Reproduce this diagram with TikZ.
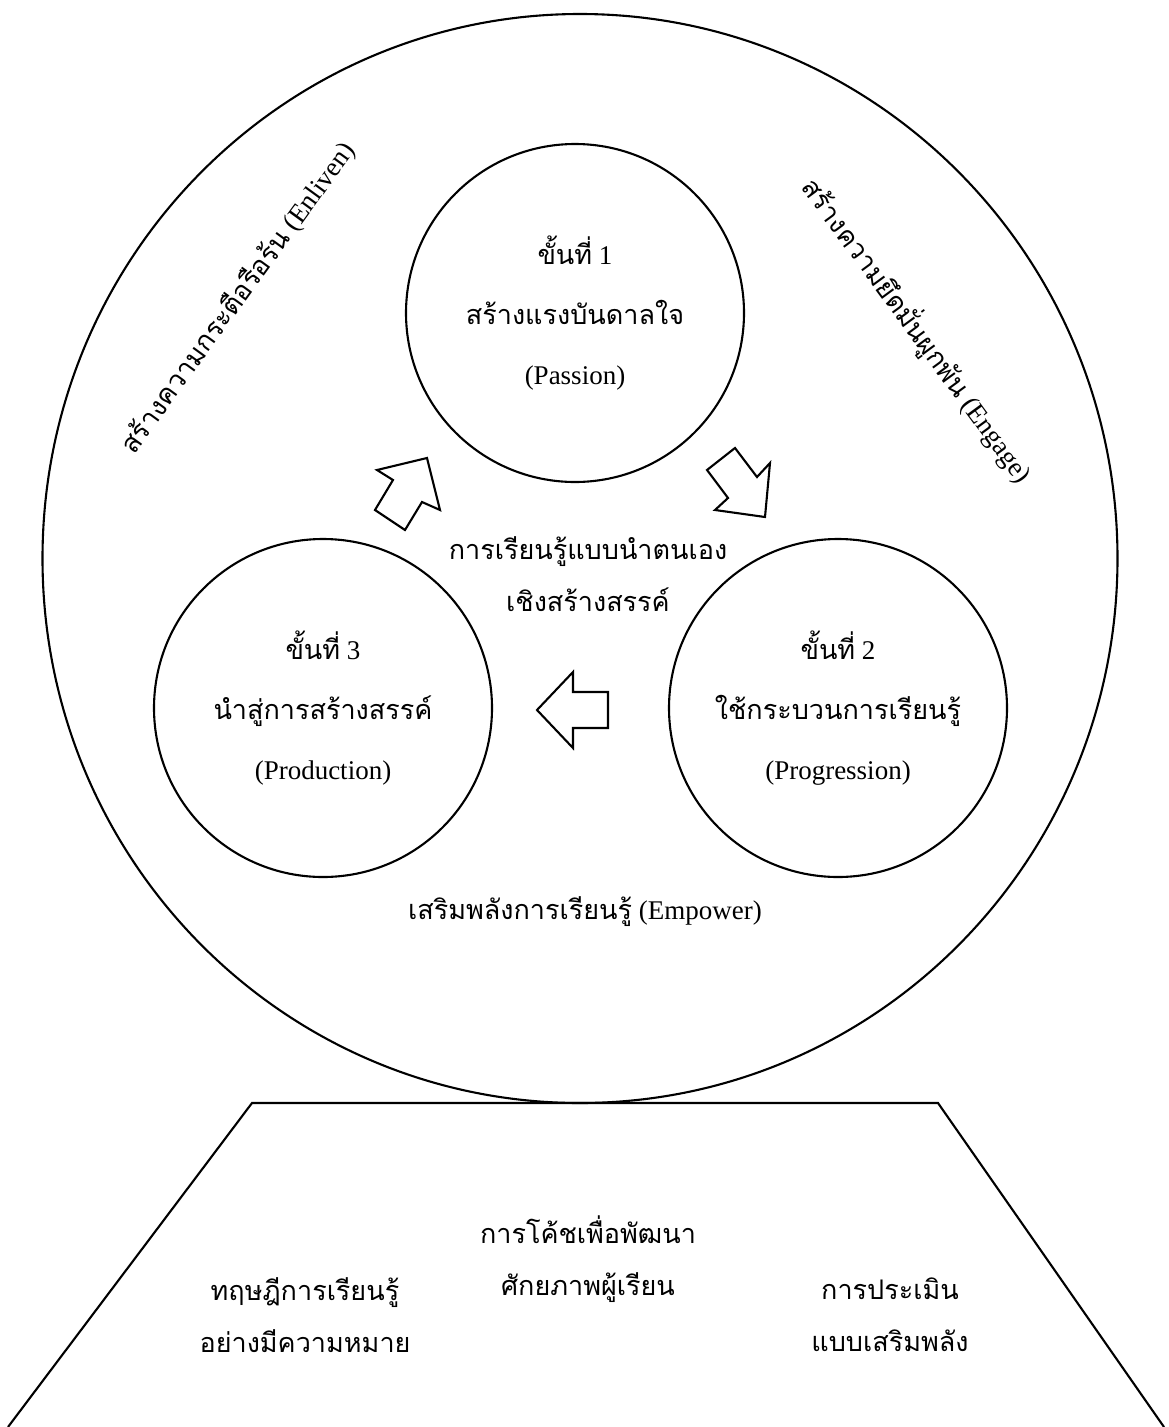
\documentclass[tikz,border=0pt]{standalone}
\usepackage{fontspec}
\setmainfont{Liberation Serif}
\newfontfamily\thaifont[Script=Thai]{Loma}
\usetikzlibrary{shapes.geometric}
\tikzset{
  ln/.style={line width=2.1pt, black},
  stage/.style={ln, draw, circle, minimum size=338pt, inner sep=0pt, align=center,
    font=\fontsize{27}{60}\selectfont},
  txt/.style={align=center, inner sep=0pt, font=\fontsize{27}{52}\selectfont},
  blockarrow/.style={ln, draw, fill=white, line join=miter},
}
\begin{document}
\begin{tikzpicture}[x=1pt,y=-1pt]
\useasboundingbox (0,0) rectangle (1169,1427);
% outer circle
\node[ln, draw, ellipse, minimum width=1075pt, minimum height=1089pt, inner sep=0pt] (outer) at (580,558.5) {};
% stages
\node[stage] (s1) at (575,313) {{\thaifont ขั้นที่} 1\\{\thaifont สร้างแรงบันดาลใจ}\\(Passion)};
\node[stage] (s2) at (838,708) {{\thaifont ขั้นที่} 2\\{\thaifont ใช้กระบวนการเรียนรู้}\\(Progression)};
\node[stage] (s3) at (323,708) {{\thaifont ขั้นที่} 3\\{\thaifont นำสู่การสร้างสรรค์}\\(Production)};
% centre text
\node[txt] (center) at (588,574) {\thaifont การเรียนรู้แบบนำตนเอง\\\thaifont เชิงสร้างสรรค์};
\node[txt] (empower) at (585,912) {{\thaifont เสริมพลังการเรียนรู้} (Empower)};
% rotated texts
\node[txt, rotate=54] (enliven) at (238,298) {{\thaifont สร้างความกระตือรือร้น} (Enliven)};
\node[txt, rotate=-53.7] (engage) at (918,330) {{\thaifont สร้างความยึดมั่นผูกพัน} (Engage)};
% block arrows
\draw[blockarrow] (427,458) -- (440,510) -- (422,502) -- (405,530) -- (375,510) -- (393,480) -- (377,470) -- cycle;
\draw[blockarrow] (735,448) -- (757,477) -- (770,463) -- (765,517) -- (715,510) -- (728,498) -- (707,470) -- cycle;
\draw[blockarrow] (537,710) -- (573,672) -- (573,692) -- (608,692) -- (608,728) -- (573,728) -- (573,748) -- cycle;
% trapezoid base
\coordinate (tl) at (252,1103);
\coordinate (tr) at (938,1103);
\coordinate (bl) at (8,1427);
\coordinate (br) at (1164,1427);
\draw[ln] (bl) -- (tl) -- (tr) -- (br);
% base texts
\node[txt] (coach) at (588,1259) {\thaifont การโค้ชเพื่อพัฒนา\\\thaifont ศักยภาพผู้เรียน};
\node[txt] (theory) at (305,1315) {\thaifont ทฤษฎีการเรียนรู้\\\thaifont อย่างมีความหมาย};
\node[txt] (assess) at (890,1315) {\thaifont การประเมิน\\\thaifont แบบเสริมพลัง};
\end{tikzpicture}
\end{document}
